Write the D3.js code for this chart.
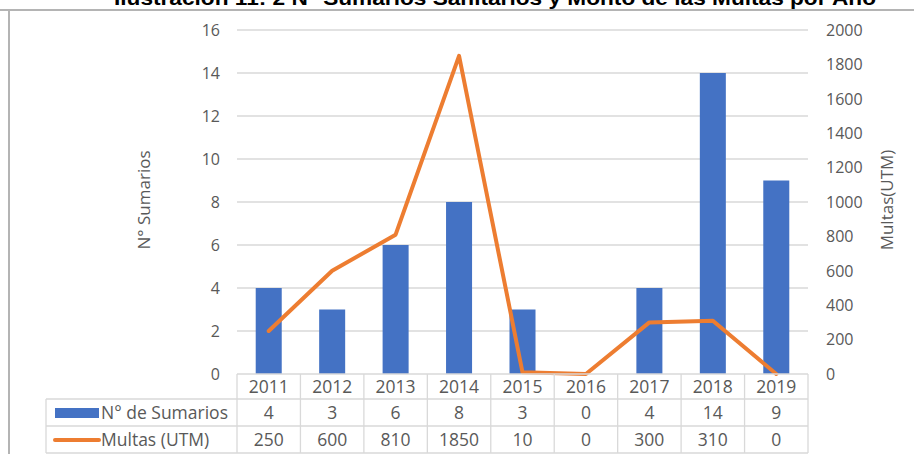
<!DOCTYPE html>
<html><head><meta charset="utf-8">
<script src="https://cdn.jsdelivr.net/npm/d3@7"></script>
<style>body{margin:0;background:#fff;} svg{display:block;}</style>
</head><body>
<script>
const years = ["2011","2012","2013","2014","2015","2016","2017","2018","2019"];
const sumarios = [4,3,6,8,3,0,4,14,9];
const multas = [250,600,810,1850,10,0,300,310,0];
const leftTicks = [0,2,4,6,8,10,12,14,16];
const rightTicks = [0,200,400,600,800,1000,1200,1400,1600,1800,2000];
const seriesNames = ["N° de Sumarios","Multas (UTM)"];
const title = "Ilustración 11: 2 N° Sumarios Sanitarios y Monto de las Multas por Año";

const W=914,H=454;
const svg=d3.select("body").append("svg").attr("width",W).attr("height",H);
const L=237,R=808,T=30,B=374;
const x=d3.scaleBand().domain(years).range([L,R]).paddingInner(0).paddingOuter(0);
const yL=d3.scaleLinear().domain([0,16]).range([B,T]);
const yR=d3.scaleLinear().domain([0,2000]).range([B,T]);
const gray="#595959", grid="#d9d9d9", blue="#4472C4", orange="#ED7D31";
const font="'Open Sans', sans-serif";

// frame
svg.append("line").attr("x1",9).attr("x2",9).attr("y1",10).attr("y2",H).attr("stroke","#b4b4b4").attr("stroke-width",2);
svg.append("line").attr("x1",0).attr("x2",W).attr("y1",10).attr("y2",10).attr("stroke","#b4b4b4").attr("stroke-width",2);
// title (cut off at top as in the reference)
svg.append("text").attr("x",495).attr("y",5).attr("text-anchor","middle")
  .attr("font-family","'Liberation Sans', Arial, sans-serif").attr("font-weight","bold").attr("font-size",21)
  .attr("textLength",762).attr("lengthAdjust","spacingAndGlyphs").attr("fill","#000").text(title);

// gridlines
svg.append("g").selectAll("line").data(leftTicks.filter(d=>d>0)).join("line")
  .attr("x1",L).attr("x2",R).attr("y1",d=>yL(d)).attr("y2",d=>yL(d)).attr("stroke",grid).attr("stroke-width",1.3);

// left axis labels
svg.append("g").selectAll("text").data(leftTicks).join("text")
  .attr("x",220).attr("y",d=>yL(d)).attr("dy","0.36em").attr("text-anchor","end")
  .attr("font-family",font).attr("font-size",16).attr("fill",gray).text(d=>d);
// right axis labels
svg.append("g").selectAll("text").data(rightTicks).join("text")
  .attr("x",826).attr("y",d=>yR(d)).attr("dy","0.36em").attr("text-anchor","start")
  .attr("font-family",font).attr("font-size",16).attr("fill",gray).text(d=>d);

// axis titles
svg.append("text").attr("transform","translate(150,200) rotate(-90)").attr("text-anchor","middle")
  .attr("font-family",font).attr("font-size",17).attr("fill",gray).text("N° Sumarios");
svg.append("text").attr("transform","translate(893,200) rotate(-90)").attr("text-anchor","middle")
  .attr("font-family",font).attr("font-size",17).attr("fill",gray).text("Multas(UTM)");

// bars
const bw=x.bandwidth()*0.41;
svg.append("g").selectAll("rect").data(years).join("rect")
  .attr("x",d=>x(d)+x.bandwidth()/2-bw/2).attr("width",bw)
  .attr("y",(d,i)=>yL(sumarios[i])).attr("height",(d,i)=>B-yL(sumarios[i])).attr("fill",blue);

// line
const line=d3.line().x((d,i)=>x(years[i])+x.bandwidth()/2).y(d=>yR(d));
svg.append("path").datum(multas).attr("d",line).attr("fill","none").attr("stroke",orange)
  .attr("stroke-width",4).attr("stroke-linejoin","round").attr("stroke-linecap","round");

// data table
const rows=[374,399,426,453];
const LL=46;
const tg=svg.append("g").attr("stroke",grid).attr("stroke-width",1.3);
tg.append("line").attr("x1",L).attr("x2",R).attr("y1",rows[0]).attr("y2",rows[0]);
tg.append("line").attr("x1",LL).attr("x2",R).attr("y1",rows[1]).attr("y2",rows[1]);
tg.append("line").attr("x1",LL).attr("x2",R).attr("y1",rows[2]).attr("y2",rows[2]);
tg.append("line").attr("x1",LL).attr("x2",R).attr("y1",rows[3]).attr("y2",rows[3]);
tg.append("line").attr("x1",LL).attr("x2",LL).attr("y1",rows[1]).attr("y2",rows[3]);
const vx=years.map(d=>x(d)).concat([R]);
tg.selectAll(".v").data(vx).join("line").attr("class","v")
  .attr("x1",d=>d).attr("x2",d=>d).attr("y1",rows[0]).attr("y2",rows[3]);

const tf=17.5;
const rowVals=[years,sumarios,multas];
rowVals.forEach((vals,r)=>{
  svg.append("g").selectAll("text").data(vals).join("text")
    .attr("x",(d,i)=>x(years[i])+x.bandwidth()/2).attr("y",(rows[r]+rows[r+1])/2).attr("dy","0.36em")
    .attr("text-anchor","middle").attr("font-family",font).attr("font-size",tf).attr("fill",gray).text(d=>d);
});
// legend keys
svg.append("rect").attr("x",55).attr("y",408).attr("width",44).attr("height",10).attr("fill",blue);
svg.append("line").attr("x1",55).attr("x2",99).attr("y1",440).attr("y2",440).attr("stroke",orange).attr("stroke-width",4).attr("stroke-linecap","round");
svg.append("text").attr("x",101).attr("y",(rows[1]+rows[2])/2).attr("dy","0.36em").attr("font-family",font).attr("font-size",tf).attr("fill",gray).text(seriesNames[0]);
svg.append("text").attr("x",101).attr("y",(rows[2]+rows[3])/2).attr("dy","0.36em").attr("font-family",font).attr("font-size",tf).attr("fill",gray).text(seriesNames[1]);
</script>
</body></html>
